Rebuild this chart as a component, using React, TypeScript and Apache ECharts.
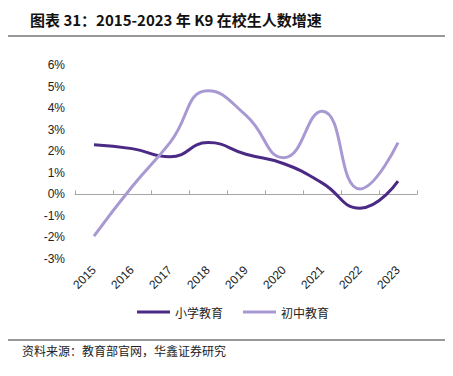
import React, { useEffect, useRef } from "react";
import * as echarts from "echarts";

const years = ["2015", "2016", "2017", "2018", "2019", "2020", "2021", "2022", "2023"];
const primary = [2.3, 2.12, 1.74, 2.4, 1.86, 1.42, 0.53, -0.64, 0.61];
const junior = [-1.94, 0.35, 2.4, 4.8, 3.66, 1.7, 3.86, 0.25, 2.4];
const seriesNames = ["小学教育", "初中教育"];

const titleText = "图表 31：2015-2023 年 K9 在校生人数增速";
const sourceText = "资料来源：教育部官网，华鑫证券研究";

export default function App() {
  const ref = useRef<HTMLDivElement>(null);
  useEffect(() => {
    const chart = echarts.init(ref.current!, null, { renderer: "svg" });
    const cjk = "'Noto Sans CJK SC', sans-serif";
    const latin = "'Liberation Sans', Arial, sans-serif";
    chart.setOption({
      animation: false,
      title: {
        text: titleText,
        left: 25,
        top: 7,
        textStyle: { fontSize: 15, fontWeight: "bold", color: "#111", fontFamily: cjk },
      },
      graphic: [
        { type: "line", shape: { x1: 0, y1: 36, x2: 450, y2: 36 }, style: { stroke: "#333", lineWidth: 1 } },
        { type: "line", shape: { x1: 0, y1: 340, x2: 453, y2: 340 }, style: { stroke: "#333", lineWidth: 1 } },
        {
          type: "text",
          left: 22,
          top: 344,
          style: { text: sourceText, fontSize: 12, fill: "#222", fontFamily: cjk },
        },
      ],
      legend: {
        data: seriesNames,
        left: 132,
        top: 301,
        icon: "rect",
        itemWidth: 33,
        itemHeight: 3,
        itemGap: 20,
        textStyle: { fontSize: 12, color: "#222", fontFamily: cjk },
      },
      grid: { left: 75, right: 36, top: 65, bottom: 117, containLabel: false },
      xAxis: [
        {
          type: "category",
          data: years,
          boundaryGap: true,
          axisLine: { onZero: true, lineStyle: { color: "#a6a6a6", width: 1 } },
          axisTick: { show: true, inside: true, length: 4, lineStyle: { color: "#a6a6a6" } },
          axisLabel: { show: false },
        },
        {
          type: "category",
          data: years,
          position: "bottom",
          boundaryGap: true,
          axisLine: { show: false, onZero: false },
          axisTick: { show: false },
          axisLabel: {
            rotate: 45,
            margin: 9,
            fontSize: 12,
            color: "#222",
            fontFamily: latin,
          },
        },
      ],
      yAxis: {
        type: "value",
        min: -3,
        max: 6,
        interval: 1,
        axisLine: { show: false },
        axisTick: { show: false },
        splitLine: { show: false },
        axisLabel: {
          formatter: (v: number) => `${v}%`,
          fontSize: 12,
          color: "#222",
          margin: 10,
          fontFamily: latin,
        },
      },
      series: [
        {
          name: seriesNames[0],
          type: "line",
          data: primary,
          smooth: true,
          showSymbol: false,
          lineStyle: { color: "#4b2a86", width: 3 },
          itemStyle: { color: "#4b2a86" },
        },
        {
          name: seriesNames[1],
          type: "line",
          data: junior,
          smooth: true,
          showSymbol: false,
          lineStyle: { color: "#a899d3", width: 3 },
          itemStyle: { color: "#a899d3" },
        },
      ],
    });
    return () => chart.dispose();
  }, []);
  return <div ref={ref} style={{ width: 453, height: 376, margin: -8 }} />;
}
